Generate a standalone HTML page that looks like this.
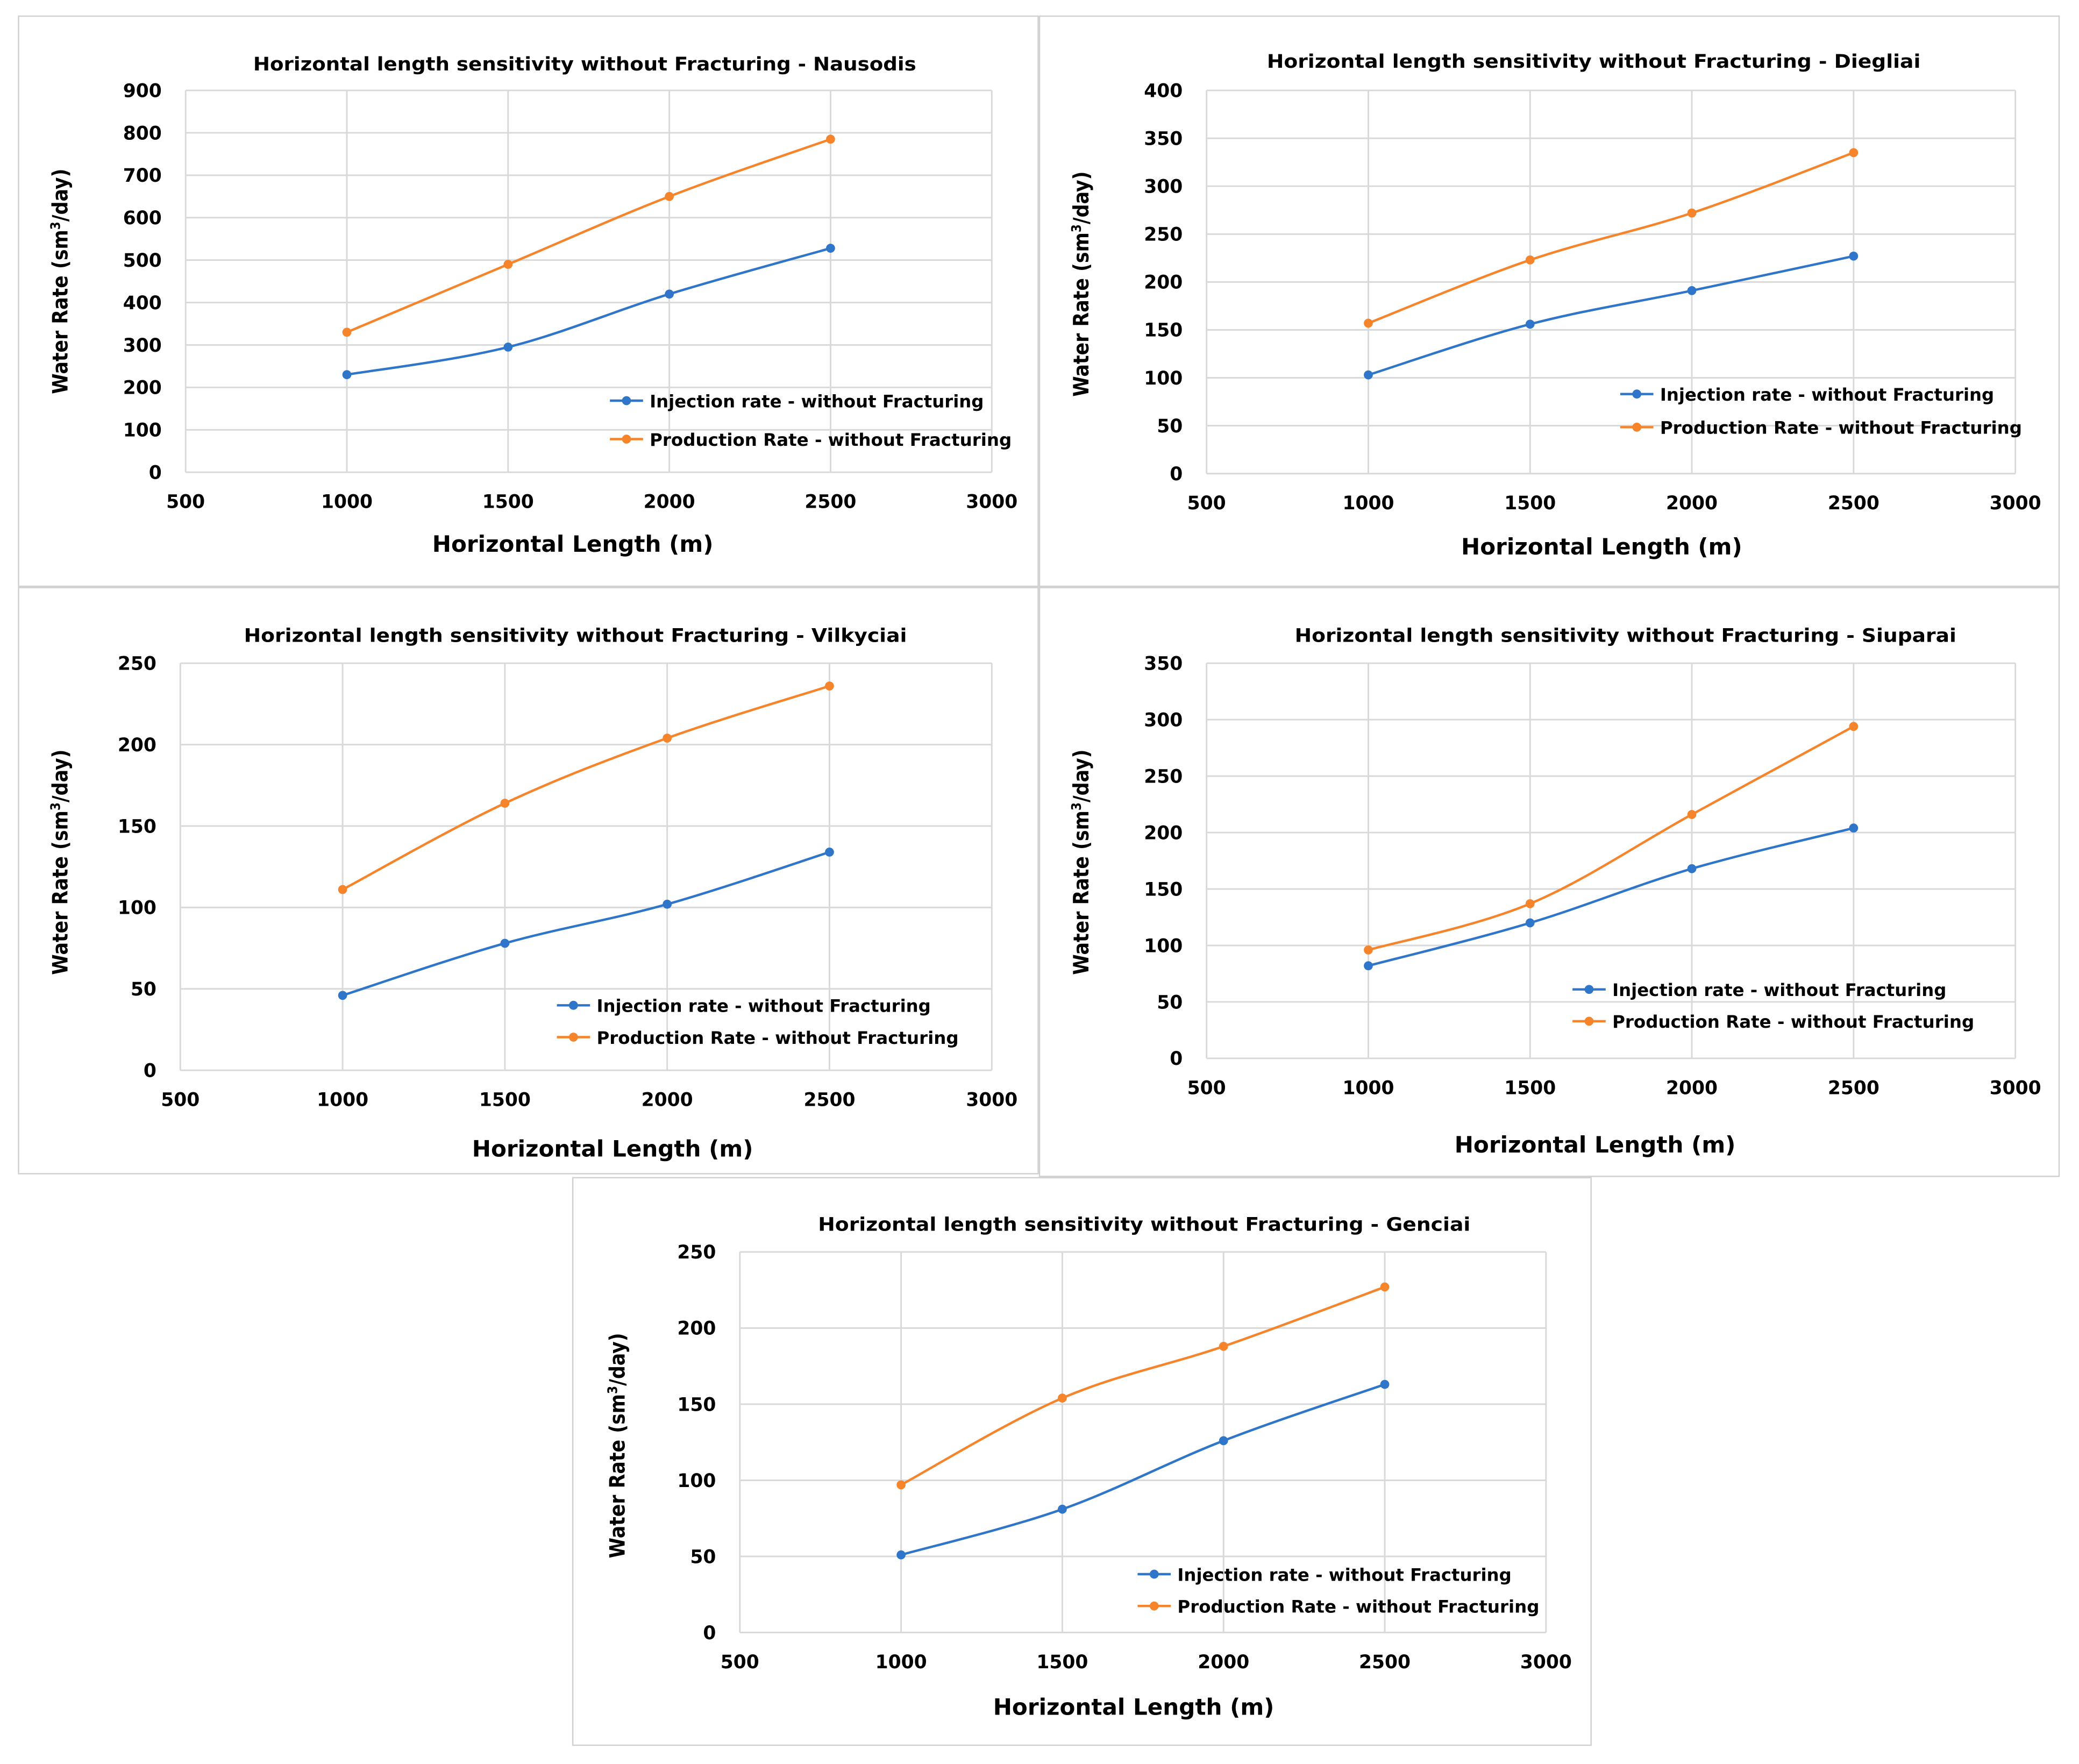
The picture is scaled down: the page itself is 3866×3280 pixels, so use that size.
<!DOCTYPE html>
<html><head><meta charset="utf-8"><style>
html,body{margin:0;padding:0;background:#fff;}
svg{display:block;}
text{font-family:"DejaVu Sans","Liberation Sans",Arial,sans-serif;font-weight:bold;fill:#000;}
</style></head><body>
<svg id="root" width="3866" height="3280" viewBox="0 0 1568 1330" xmlns="http://www.w3.org/2000/svg"></svg>
<script>
const xCategories = [1000, 1500, 2000, 2500];
const xTicks = [500, 1000, 1500, 2000, 2500, 3000];
const panelNames = ["Nausodis", "Diegliai", "Vilkyciai", "Siuparai", "Genciai"];
const yMaxes = [900, 400, 250, 350, 250];
const yStepsList = [100, 50, 50, 50, 50];
const injNausodis = [230, 295, 420, 528];
const prodNausodis = [330, 490, 650, 785];
const injDiegliai = [103, 156, 191, 227];
const prodDiegliai = [157, 223, 272, 335];
const injVilkyciai = [46, 78, 102, 134];
const prodVilkyciai = [111, 164, 204, 236];
const injSiuparai = [82, 120, 168, 204];
const prodSiuparai = [96, 137, 216, 294];
const injGenciai = [51, 81, 126, 163];
const prodGenciai = [97, 154, 188, 227];
const injSeries = [injNausodis, injDiegliai, injVilkyciai, injSiuparai, injGenciai];
const prodSeries = [prodNausodis, prodDiegliai, prodVilkyciai, prodSiuparai, prodGenciai];

const layouts = [
 {box:[14,12,769,430], px0:140, px1:748, py0:68, py1:356, leg:[460,302,331], title:[441,48,500], yt:[45,212], xt:[432,410]},
 {box:[784,12,769,430], px0:910, px1:1520, py0:68, py1:357, leg:[1222,297,322], title:[1202,46,493], yt:[815,214], xt:[1208,412]},
 {box:[14,443,769,442], px0:136, px1:748, py0:500, py1:807, leg:[420,758,782], title:[434,479,500], yt:[45,650], xt:[462,866]},
 {box:[784,443,769,444], px0:910, px1:1520, py0:500, py1:798, leg:[1186,746,770], title:[1226,479,499], yt:[815,650], xt:[1203,863]},
 {box:[432,888,768,428], px0:558, px1:1166, py0:944, py1:1231, leg:[858,1187,1211], title:[863,923,492], yt:[465,1090], xt:[855,1287]}
];
const NS="http://www.w3.org/2000/svg";
const root=document.getElementById('root');
function mk(tag,attrs,parent){const e=document.createElementNS(NS,tag);for(const k in attrs)e.setAttribute(k,attrs[k]);parent.appendChild(e);return e;}
function smooth(pts){let d=`M${pts[0][0]},${pts[0][1]}`;for(let i=0;i<pts.length-1;i++){const p0=pts[i-1]||pts[i],p1=pts[i],p2=pts[i+1],p3=pts[i+2]||p2;const t=0.17;const c1=[p1[0]+(p2[0]-p0[0])*t,p1[1]+(p2[1]-p0[1])*t];const c2=[p2[0]-(p3[0]-p1[0])*t,p2[1]-(p3[1]-p1[1])*t];d+=` C${c1[0]},${c1[1]} ${c2[0]},${c2[1]} ${p2[0]},${p2[1]}`;}return d;}
const BLUE="#2f75c9", ORANGE="#f5842a";
layouts.forEach((L,i)=>{
 const g=mk('g',{},root);
 
 
 const b=mk('rect',{x:L.box[0],y:L.box[1],width:L.box[2],height:L.box[3],fill:'#fff',stroke:'#d0d0d0','stroke-width':1},g);
 
 const xs=v=>L.px0+(v-500)/2500*(L.px1-L.px0);
 const ys=v=>L.py1-v/yMaxes[i]*(L.py1-L.py0);
 for(let v=0;v<=yMaxes[i];v+=yStepsList[i]){
  const ln=mk('line',{x1:L.px0,x2:L.px1,y1:ys(v),y2:ys(v),stroke:'#d9d9d9','stroke-width':1.2},g);
  
  const t=mk('text',{x:L.px0-18,y:ys(v)+5,'text-anchor':'end','font-size':14},g);t.textContent=v;
  
 }
 xTicks.forEach(v=>{
  const ln=mk('line',{x1:xs(v),x2:xs(v),y1:L.py0,y2:L.py1,stroke:'#d9d9d9','stroke-width':1.2},g);
  
  const t=mk('text',{x:xs(v),y:L.py1+27,'text-anchor':'middle','font-size':14},g);t.textContent=v;
  
 });
 const tt=mk('text',{x:L.title[0],y:L.title[1]+5,'text-anchor':'middle','font-size':14,textLength:L.title[2],lengthAdjust:'spacingAndGlyphs'},g);
 tt.textContent='Horizontal length sensitivity without Fracturing  - '+panelNames[i];
 
 const xt=mk('text',{x:L.xt[0],y:L.xt[1]+6,'text-anchor':'middle','font-size':17,textLength:212,lengthAdjust:'spacingAndGlyphs'},g);
 xt.textContent='Horizontal Length (m)';
 
 const yt=mk('text',{x:0,y:0,'text-anchor':'middle','font-size':16,textLength:170,lengthAdjust:'spacingAndGlyphs',transform:`translate(${L.yt[0]+6},${L.yt[1]}) rotate(-90)`},g);
 yt.innerHTML='Water Rate (sm<tspan baseline-shift="super" font-size="10">3</tspan>/day)';
 
 [[injSeries[i],BLUE,'injection'],[prodSeries[i],ORANGE,'production']].forEach(([vals,col,nm])=>{
  const pts=vals.map((v,k)=>[xs(xCategories[k]),ys(v)]);
  const p=mk('path',{d:smooth(pts),fill:'none',stroke:col,'stroke-width':1.8},g);
  
  pts.forEach(pt=>{const c=mk('circle',{cx:pt[0],cy:pt[1],r:3.4,fill:col},g);
   });
 });
 [[L.leg[1],BLUE,'Injection rate - without Fracturing','legend-injection',252],[L.leg[2],ORANGE,'Production Rate - without Fracturing','legend-production',273]].forEach(([y,col,lbl,nm,w])=>{
  const lg=mk('g',{},g);
  mk('line',{x1:L.leg[0],x2:L.leg[0]+25,y1:y,y2:y,stroke:col,'stroke-width':1.8},lg);
  mk('circle',{cx:L.leg[0]+12.5,cy:y,r:3.4,fill:col},lg);
  const t=mk('text',{x:L.leg[0]+30,y:y+5,'font-size':13,textLength:w,lengthAdjust:'spacingAndGlyphs'},lg);t.textContent=lbl;
 });
});
</script>
</body></html>
